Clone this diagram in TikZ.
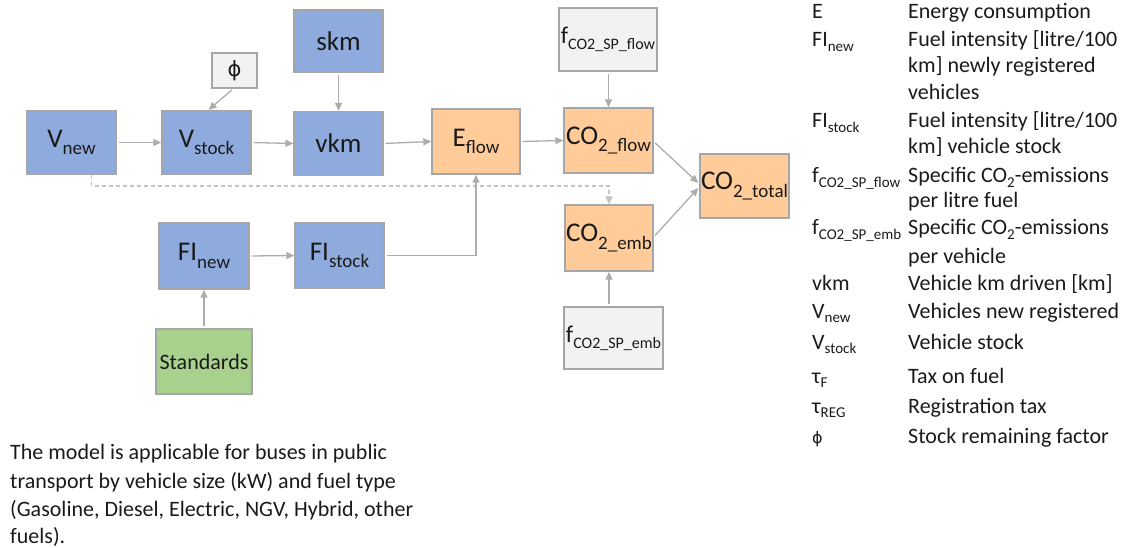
\documentclass[tikz,border=0pt]{standalone}
\usepackage{fontspec}
\setmainfont{Carlito}
\newfontfamily\djv{DejaVu Sans}
\usetikzlibrary{arrows.meta,calc}
\definecolor{bfill}{HTML}{8FAADC}
\definecolor{ofill}{HTML}{FFCC99}
\definecolor{gfill}{HTML}{A9D18E}
\definecolor{pfill}{HTML}{F2F2F2}
\definecolor{bord}{HTML}{A6A6A6}
\definecolor{arrc}{HTML}{ADADAD}
\definecolor{dashc}{HTML}{C4C4C4}
\definecolor{txt}{HTML}{1A1A1A}
\newcommand\bsb[1]{\raisebox{-0.27em}{\fontsize{19}{19}\selectfont #1}}
\newcommand\fsb[1]{\raisebox{-0.25em}{\fontsize{16}{16}\selectfont #1}}
\newcommand\ssb[1]{\raisebox{-0.2em}{\fontsize{15}{15}\selectfont #1}}
\begin{document}
\begin{tikzpicture}[x=1pt,y=-1pt,
  box/.style={draw=bord, line width=1.3pt, inner sep=0pt, text=txt, font=\fontsize{27}{30}\selectfont},
  bluebox/.style={box, fill=bfill, minimum width=89pt, minimum height=64pt},
  orbox/.style={box, fill=ofill, minimum width=89pt, minimum height=65pt},
  parbox/.style={box, fill=pfill},
  arr/.style={draw=arrc, line width=1.3pt, -{Triangle[length=8pt,width=7pt]}, shorten <=2pt},
  dsh/.style={draw=dashc, line width=1.3pt, dashed, dash pattern=on 4pt off 3pt, -{Triangle[length=8pt,width=7pt]}},
  leg/.style={anchor=base west, inner sep=0pt, text=txt, font=\fontsize{22}{26}\selectfont},
]
\useasboundingbox (0,0) rectangle (1130,548);

% boxes
\node[bluebox] (vnew) at (71.5,142.5) {V\bsb{new}};
\node[bluebox] (vstock) at (206.5,142.5) {V\bsb{stock}};
\node[bluebox] (vkm) at (338.5,143.5) {vkm};
\node[bluebox, minimum height=62pt] (skm) at (338.5,41) {skm};
\node[parbox, minimum width=45pt, minimum height=35pt, font=\djv\fontsize{21}{24}\selectfont] (phi) at (234.5,70.5) {ϕ};
\node[orbox, minimum width=88pt] (eflow) at (476,141.5) {E\bsb{flow}};
\node[orbox] (co2flow) at (608.5,140.5) {CO\bsb{2\_flow}};
\node[parbox, minimum width=98pt, minimum height=63pt, font=\fontsize{24}{28}\selectfont] (fflow) at (608,39.5) {f\fsb{CO2\_SP\_flow}};
\node[orbox, minimum height=64pt] (co2total) at (744.5,186) {CO\bsb{2\_total}};
\node[orbox, minimum width=88pt, minimum height=66pt] (co2emb) at (609,238) {CO\bsb{2\_emb}};
\node[parbox, minimum width=99pt, minimum height=62pt, font=\fontsize{24}{28}\selectfont] (femb) at (613.5,338) {f\fsb{CO2\_SP\_emb}};
\node[bluebox, minimum width=90pt, minimum height=66pt] (finew) at (204,256) {FI\bsb{new}};
\node[bluebox, minimum height=65pt] (fistock) at (339.5,255.5) {FI\bsb{stock}};
\node[box, fill=gfill, minimum width=96pt, minimum height=65pt, font=\fontsize{22}{26}\selectfont] (std) at (204,361.5) {Standards};

% connectors
\draw[arr] (vnew.east) -- (vstock.west);
\draw[arr] (vstock.east) -- (vkm.west);
\draw[arr] (vkm.east) -- (eflow.west);
\draw[arr] (eflow.east) -- (co2flow.west);
\draw[arr] (skm.south) -- (vkm.north);
\draw[arr] ($(phi.south)+(-1,0)$) -- ($(vstock.north)+(2,0)$);
\draw[arr] (fflow.south -| co2flow.north) -- (co2flow.north);
\draw[arr] ($(co2flow.east)+(0,1)$) -- ($(co2total.west)+(-1,-3)$);
\draw[arr] ($(co2emb.east)+(0,-1)$) -- ($(co2total.west)+(-1,2)$);
\draw[dsh] ($(vnew.south)+(20,0)$) -- ++(0,11) -| (co2emb.north);
\draw[arr] (fistock.east) -| (eflow.south);
\draw[arr] (finew.east) -- (fistock.west);
\draw[arr] (std.north) -- (finew.south);
\draw[arr] (femb.north -| co2emb.south) -- (co2emb.south);

% legend
\node[leg] (l1) at (812,19) {E};
\node[leg] (d1) at (908,19) {Energy consumption};
\node[leg] (l2) at (812,47) {FI\ssb{new}};
\node[leg] (d2a) at (908,47) {Fuel intensity [litre/100};
\node[leg] (d2b) at (908,73) {km] newly registered};
\node[leg] (d2c) at (908,100) {vehicles};
\node[leg] (l3) at (812,128) {FI\ssb{stock}};
\node[leg] (d3a) at (908,128) {Fuel intensity [litre/100};
\node[leg] (d3b) at (908,154) {km] vehicle stock};
\node[leg] (l4) at (812,183) {f\ssb{CO2\_SP\_flow}};
\node[leg] (d4a) at (908,183) {Specific CO\ssb{2}-emissions};
\node[leg] (d4b) at (908,208) {per litre fuel};
\node[leg] (l5) at (812,235) {f\ssb{CO2\_SP\_emb}};
\node[leg] (d5a) at (908,235) {Specific CO\ssb{2}-emissions};
\node[leg] (d5b) at (908,263) {per vehicle};
\node[leg] (l6) at (812,290) {vkm};
\node[leg] (d6) at (908,290) {Vehicle km driven [km]};
\node[leg] (l7) at (812,318) {V\ssb{new}};
\node[leg] (d7) at (908,318) {Vehicles new registered};
\node[leg] (l8) at (812,349) {V\ssb{stock}};
\node[leg] (d8) at (908,349) {Vehicle stock};
\node[leg] (l9) at (812,383) {τ\ssb{F}};
\node[leg] (d9) at (908,383) {Tax on fuel};
\node[leg] (l10) at (812,413) {τ\ssb{REG}};
\node[leg] (d10) at (908,413) {Registration tax};
\node[leg] (l11) at (812,443) {{\djv\fontsize{16}{18}\selectfont ϕ}};
\node[leg] (d11) at (908,443) {Stock remaining factor};

% bottom note
\node[leg] (n1) at (10,459) {The model is applicable for buses in public};
\node[leg] (n2) at (10,488) {transport by vehicle size (kW) and fuel type};
\node[leg] (n3) at (10,516) {(Gasoline, Diesel, Electric, NGV, Hybrid, other};
\node[leg] (n4) at (10,543) {fuels).};
\end{tikzpicture}
\end{document}
